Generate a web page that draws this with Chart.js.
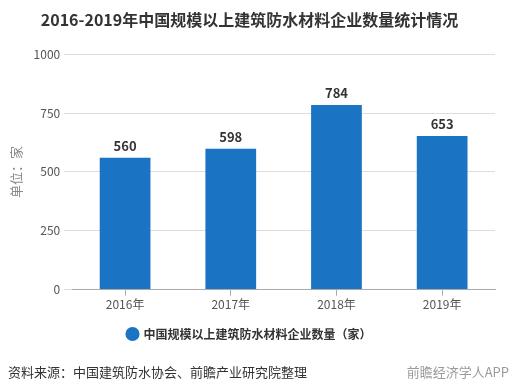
<!DOCTYPE html>
<html lang="zh">
<head>
  <meta charset="UTF-8">
  <title>2016-2019年中国规模以上建筑防水材料企业数量统计情况</title>
  <script src="https://cdn.jsdelivr.net/npm/chart.js@4.4.2/dist/chart.umd.min.js"></script>
  <style>
    body { margin: 0; padding: 0; background: #fff; }
    #wrap { width: 511px; height: 391px; }
  </style>
</head>
<body>
  <div id="wrap"><canvas id="myChart" width="511" height="391"></canvas></div>

  <script>
    const years = ['2016年', '2017年', '2018年', '2019年'];
    const empresas = [560, 598, 784, 653];
    const yTicks = [0, 250, 500, 750, 1000];

    const fuente = '资料来源：中国建筑防水协会、前瞻产业研究院整理';
    const marca = '前瞻经济学人APP';
    const font = "'Noto Sans CJK SC', 'Noto Sans', sans-serif";

    // etiquetas de valor encima de cada barra + textos del pie
    const extras = {
      id: 'extras',
      afterDatasetsDraw(chart) {
        const ctx = chart.ctx;
        const meta = chart.getDatasetMeta(0);
        ctx.save();
        ctx.fillStyle = '#333';
        ctx.font = "bold 13px " + font;
        ctx.textAlign = 'center';
        ctx.textBaseline = 'bottom';
        meta.data.forEach((bar, i) => {
          ctx.fillText(empresas[i], bar.x, bar.y - 5);
        });
        ctx.restore();
      },
      afterDraw(chart) {
        const ctx = chart.ctx;
        ctx.save();
        ctx.font = "13px " + font;
        ctx.fillStyle = '#333';
        ctx.textBaseline = 'middle';
        ctx.textAlign = 'left';
        ctx.fillText(fuente, 8, 372);
        ctx.fillStyle = '#9a9a9a';
        ctx.textAlign = 'right';
        ctx.fillText(marca, 509, 372);
        ctx.restore();
      }
    };

    const ctx = document.getElementById('myChart').getContext('2d');
    new Chart(ctx, {
      type: 'bar',
      data: {
        labels: years,
        datasets: [{
          label: '中国规模以上建筑防水材料企业数量（家）',
          data: empresas,
          backgroundColor: '#1a74c3',
          categoryPercentage: 1,
          barPercentage: 0.48
        }]
      },
      options: {
        responsive: false,
        animation: false,
        devicePixelRatio: 1,
        layout: { padding: { left: 4, right: 16, top: 0, bottom: 41 } },
        plugins: {
          title: {
            display: true,
            text: '2016-2019年中国规模以上建筑防水材料企业数量统计情况',
            color: '#333',
            font: { family: font, size: 16, weight: 'bold' },
            padding: { top: 10, bottom: 25 }
          },
          legend: {
            position: 'bottom',
            labels: {
              color: '#333',
              usePointStyle: true,
              pointStyle: 'circle',
              boxWidth: 10,
              boxHeight: 10,
              padding: 14,
              font: { family: font, size: 12, weight: 'bold' }
            }
          },
          tooltip: { enabled: false }
        },
        scales: {
          x: {
            grid: { display: true, drawOnChartArea: false, offset: false, color: '#aaa', tickLength: 6 },
            border: { color: '#aaa' },
            ticks: { color: '#555', font: { family: font, size: 12 }, padding: 2 }
          },
          y: {
            min: 0,
            max: 1000,
            afterBuildTicks: axis => { axis.ticks = yTicks.map(v => ({ value: v })); },
            grid: { color: '#ddd', tickLength: 8 },
            border: { display: false },
            ticks: {
              color: '#555',
              font: { family: font, size: 12 },
              padding: 4,
              callback: v => String(v)
            },
            title: {
              display: true,
              text: '单位：家',
              color: '#888',
              font: { family: font, size: 13 },
              padding: { bottom: 6 }
            }
          }
        }
      },
      plugins: [extras]
    });
  </script>
</body>
</html>
